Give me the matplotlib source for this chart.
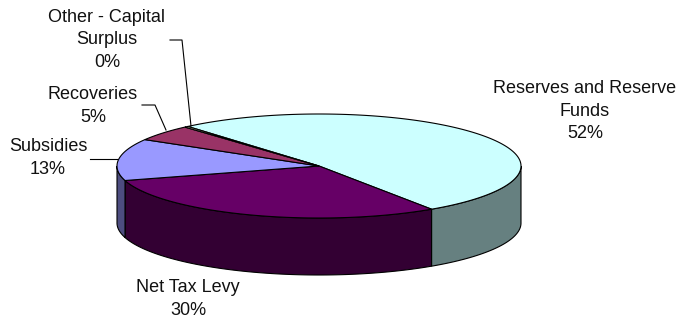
import numpy as np
import matplotlib
matplotlib.use("Agg")
import matplotlib.pyplot as plt
from matplotlib.patches import Polygon

plt.rcParams['font.family'] = ['Liberation Sans', 'DejaVu Sans']

# Slice data, in drawing order (clockwise from the start angle).
labels = ["Reserves and Reserve\nFunds", "Net Tax Levy", "Subsidies",
          "Recoveries", "Other - Capital\nSurplus"]
values = [52.0, 30.0, 13.0, 5.0, 0.3]
tops = ["#CCFFFF", "#660066", "#9999FF", "#993366", "#FFFFCC"]

# Label anchor points (pixel space) and leader lines.
label_pos = [(585, 111), (188, 299), (48, 158), (93, 106), (107, 40)]
leaders = {
    2: [(90, 159), (117, 159)],
    3: [(142, 105), (155, 105), (166, 130)],
    4: [(170, 40), (182, 40), (191, 126)],
}

cx, cy = 319, 166      # centre of the top face
ra, rb = 202, 52       # ellipse semi-axes
depth = 57             # height of the cylinder wall
start = 130.5          # angle of the first slice edge, degrees


def ell(t, dz=0):
    t = np.radians(t)
    return np.column_stack([cx + ra * np.cos(t), cy - rb * np.sin(t) + dz])


def darker(c, f=0.5):
    r, g, b = matplotlib.colors.to_rgb(c)
    return (r * f, g * f, b * f)


fig = plt.figure(figsize=(6.8, 3.2), dpi=100)
ax = fig.add_axes([0, 0, 1, 1])
ax.set_xlim(0, 680)
ax.set_ylim(320, 0)
ax.axis("off")

total = sum(values)
spans = []
a0 = start
for v in values:
    a1 = a0 - v / total * 360
    spans.append((a1, a0))
    a0 = a1

# Outer wall - only the front half (sin < 0) is visible.
for (lo, hi), col in zip(spans, tops):
    for k in range(-2, 2):
        flo, fhi = 180 + 360 * k, 360 + 360 * k
        s, e = max(lo, flo), min(hi, fhi)
        if e - s <= 0.01:
            continue
        t = np.linspace(e, s, 120)
        pts = np.vstack([ell(t), ell(t[::-1], depth)])
        ax.add_patch(Polygon(pts, closed=True, fc=darker(col), ec="black", lw=0.8))

# Top faces.
for (lo, hi), col in zip(spans, tops):
    t = np.linspace(hi, lo, max(int((hi - lo) * 2), 4))
    pts = np.vstack([[cx, cy], ell(t)])
    ax.add_patch(Polygon(pts, closed=True, fc=col, ec="black", lw=0.8))

# Labels with percentages.
for i, (lab, v) in enumerate(zip(labels, values)):
    x, y = label_pos[i]
    pct = round(v / total * 100)
    ax.text(x, y, f"{lab}\n{pct}%", ha="center", va="center",
            fontsize=13, color="#111111", linespacing=1.44)

for pts in leaders.values():
    xs, ys = zip(*pts)
    ax.plot(xs, ys, color="black", lw=0.8)

fig.savefig("out.png", dpi=100)
